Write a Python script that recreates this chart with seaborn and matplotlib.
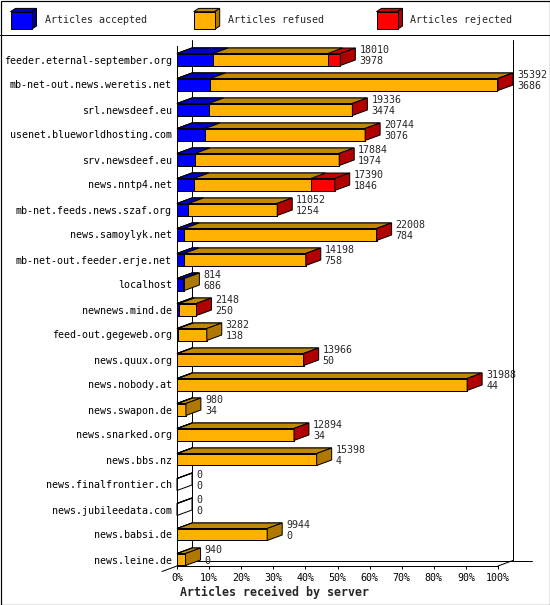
import pandas as pd
import seaborn as sb
import matplotlib.pyplot as plt
from matplotlib.patches import Polygon, Rectangle
from matplotlib.lines import Line2D

# innfeed-style statistics: one row per peer
servers = [
    "feeder.eternal-september.org",
    "mb-net-out.news.weretis.net",
    "srl.newsdeef.eu",
    "usenet.blueworldhosting.com",
    "srv.newsdeef.eu",
    "news.nntp4.net",
    "mb-net.feeds.news.szaf.org",
    "news.samoylyk.net",
    "mb-net-out.feeder.erje.net",
    "localhost",
    "newnews.mind.de",
    "feed-out.gegeweb.org",
    "news.quux.org",
    "news.nobody.at",
    "news.swapon.de",
    "news.snarked.org",
    "news.bbs.nz",
    "news.finalfrontier.ch",
    "news.jubileedata.com",
    "news.babsi.de",
    "news.leine.de",
]
offered = [18010, 35392, 19336, 20744, 17884, 17390, 11052, 22008, 14198, 814,
           2148, 3282, 13966, 31988, 980, 12894, 15398, 0, 0, 9944, 940]
accepted = [3978, 3686, 3474, 3076, 1974, 1846, 1254, 784, 758, 686,
            250, 138, 50, 44, 34, 34, 4, 0, 0, 0, 0]
# rejected counts are only visible as bar segments
rejected = [1400, 60, 40, 40, 40, 2650, 30, 40, 30, 0,
            40, 0, 30, 40, 0, 30, 0, 0, 0, 0, 0]
refused = [o - a - r for o, a, r in zip(offered, accepted, rejected)]

FRONT = {"accepted": "#0000ff", "refused": "#ffb000", "rejected": "#ff0000"}
TOP = {"accepted": "#0000c8", "refused": "#c08800", "rejected": "#c80000"}
SIDE = {"accepted": "#0000a0", "refused": "#b07800", "rejected": "#b00000"}

W, H = 550, 605
DEPTH_X, DEPTH_Y = 15, 5.5  # 3d offset in pixels
PT = 0.72  # points per pixel at 100 dpi
FONT = 7.2


def draw_legend(bg):
    entries = [("accepted", 10.5, 44.6), ("refused", 193.7, 228), ("rejected", 376.5, 410.5)]
    for name, bx, tx in entries:
        w, h, dx, dy = 21, 17.6, 5, 3.3
        y = 11.7
        bg.add_patch(Polygon([(bx, y), (bx + w, y), (bx + w + dx, y - dy), (bx + dx, y - dy)],
                             facecolor=TOP[name], edgecolor="black", lw=PT))
        bg.add_patch(Polygon([(bx + w, y), (bx + w, y + h), (bx + w + dx, y + h - dy), (bx + w + dx, y - dy)],
                             facecolor=SIDE[name], edgecolor="black", lw=PT))
        bg.add_patch(Rectangle((bx, y), w, h, facecolor=FRONT[name], edgecolor="black", lw=PT))
        bg.text(tx, 20, "Articles " + name, ha="left", va="center", fontsize=FONT)


def plot_peers():
    sb.set_style("ticks")
    plt.rcParams["font.family"] = ["DejaVu Sans Mono", "DejaVu Sans"]

    fig = plt.figure(figsize=(W / 100, H / 100), dpi=100)
    bg = fig.add_axes([0, 0, 1, 1], zorder=0)
    bg.set_xlim(0, W)
    bg.set_ylim(H, 0)
    bg.axis("off")
    bg.add_patch(Rectangle((0.5, 0.5), W - 1, H - 1, fill=False, edgecolor="black", lw=PT * 1.2))
    bg.add_line(Line2D([0, W], [35, 35], color="black", lw=PT))
    draw_legend(bg)

    ax = fig.add_axes([177 / W, (H - 566) / H, 321 / W, 520.5 / H], zorder=1)
    ax.patch.set_alpha(0)

    scale = 100 / max(offered)
    df = pd.DataFrame({"server": servers, "accepted": accepted,
                       "refused": refused, "rejected": rejected})
    df["accepted_end"] = df["accepted"] * scale
    df["refused_end"] = (df["accepted"] + df["refused"]) * scale
    df["rejected_end"] = (df["accepted"] + df["refused"] + df["rejected"]) * scale

    layers = {}
    for z, name in enumerate(["rejected", "refused", "accepted"]):
        n0 = len(ax.patches)
        sb.barplot(data=df, x=name + "_end", y="server", orient="h", color=FRONT[name],
                   saturation=1, width=0.48, errorbar=None, edgecolor="black",
                   linewidth=PT, ax=ax)
        layers[name] = ax.patches[n0:]
        for p in layers[name]:
            p.set_zorder(3 + z)

    ylim = (20 + 6.5 / 25, -14 / 25)
    ax.set_xlim(0, 100)
    ax.set_ylim(*ylim)

    t0 = ax.transData.transform((0, 0))
    t1 = ax.transData.transform((1, 1))
    ddx = DEPTH_X / (t1[0] - t0[0])
    ddy = DEPTH_Y / (t1[1] - t0[1])

    # top faces, drawn with the same stacking as the fronts
    for z, name in enumerate(["rejected", "refused", "accepted"]):
        for p in layers[name]:
            x0, x1, yt = p.get_x(), p.get_x() + p.get_width(), p.get_y()
            ax.add_patch(Polygon([(x0, yt), (x1, yt), (x1 + ddx, yt + ddy), (x0 + ddx, yt + ddy)],
                                 facecolor=TOP[name], edgecolor="black", lw=PT,
                                 zorder=3 + z, clip_on=False))

    # side faces and value labels
    for i, p in enumerate(layers["rejected"]):
        x1 = p.get_x() + p.get_width()
        yt, yb = p.get_y(), p.get_y() + p.get_height()
        if rejected[i] > 0:
            fc = SIDE["rejected"]
        elif refused[i] > 0:
            fc = SIDE["refused"]
        elif accepted[i] > 0:
            fc = SIDE["accepted"]
        else:
            fc = "none"
        ax.add_patch(Polygon([(x1, yt), (x1, yb), (x1 + ddx, yb + ddy), (x1 + ddx, yt + ddy)],
                             facecolor=fc, edgecolor="black", lw=PT, zorder=6, clip_on=False))
        yc = yt + p.get_height() / 2
        ax.annotate(str(offered[i]), xy=(x1, yc), xytext=(19 * PT, 9.5 * PT),
                    textcoords="offset points", ha="left", va="center", fontsize=FONT,
                    annotation_clip=False, zorder=7)
        ax.annotate(str(accepted[i]), xy=(x1, yc), xytext=(19 * PT, -1.5 * PT),
                    textcoords="offset points", ha="left", va="center", fontsize=FONT,
                    annotation_clip=False, zorder=7)

    # back wall and floor of the 3d frame
    frame = dict(color="black", lw=PT, zorder=1, clip_on=False)
    ax.add_line(Line2D([ddx, ddx], [ylim[1] + ddy, ylim[0] + ddy], **frame))
    ax.add_line(Line2D([100 + ddx, 100 + ddx], [ylim[1] + ddy, ylim[0] + ddy], **frame))
    ax.add_line(Line2D([ddx, 110.6], [ylim[0] + ddy, ylim[0] + ddy], **frame))
    ax.add_line(Line2D([100, 100 + ddx], [ylim[0], ylim[0] + ddy], **frame))
    ax.add_line(Line2D([-ddx, 0], [ylim[0] - ddy, ylim[0]], **frame))

    sb.despine(ax=ax)
    for side in ["left", "bottom"]:
        ax.spines[side].set_color("black")
        ax.spines[side].set_linewidth(PT)
        ax.spines[side].set_zorder(2)

    ticks = list(range(0, 101, 10))
    ax.set_xticks(ticks)
    ax.set_xticklabels([f"{t}%" for t in ticks])
    ax.tick_params(axis="x", length=3 * PT, width=PT, color="black", pad=3.2,
                   labelsize=FONT, labelcolor="black")
    ax.tick_params(axis="y", length=0, pad=5 * PT, labelsize=FONT, labelcolor="black")
    ax.set_xlabel("")
    ax.set_ylabel("")

    fig.text(275 / W, 1 - 592 / H, "Articles received by server", ha="center", va="center",
             fontsize=8.4, fontweight="bold")

    fig.savefig("out.png", dpi=100)


def main():
    plot_peers()


if __name__ == "__main__":
    main()
